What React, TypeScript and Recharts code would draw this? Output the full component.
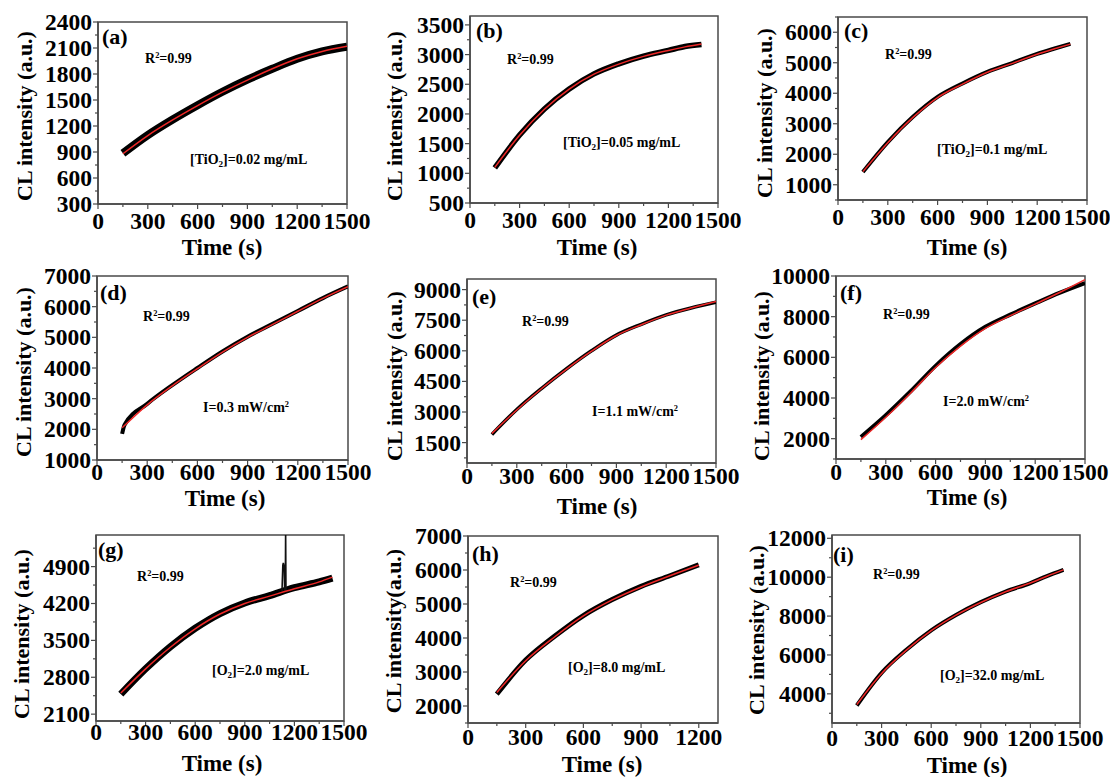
import { LineChart, Line, XAxis, YAxis, ReferenceArea } from 'recharts';

const FONT = '"Liberation Serif", "Times New Roman", serif';
const AXIS = '#4a4a4a';
const RED = '#ee2828';

// x tick labels
const xTicks1500 = [0, 300, 600, 900, 1200, 1500];
const xTicks1200 = [0, 300, 600, 900, 1200];

// (a) [TiO2]=0.02 mg/mL
const timeA = [150, 300, 450, 600, 750, 900, 1050, 1200, 1350, 1500];
const fitA = [880, 1090, 1270, 1435, 1590, 1730, 1860, 1975, 2060, 2120];
const signalA = [885, 1095, 1275, 1440, 1595, 1735, 1860, 1975, 2060, 2115];
const yTicksA = [300, 600, 900, 1200, 1500, 1800, 2100, 2400];

// (b) [TiO2]=0.05 mg/mL
const timeB = [150, 300, 450, 600, 750, 900, 1050, 1200, 1300, 1400];
const fitB = [1100, 1640, 2080, 2420, 2670, 2840, 2970, 3070, 3130, 3180];
const signalB = [1090, 1645, 2085, 2420, 2675, 2845, 2975, 3070, 3135, 3170];
const yTicksB = [500, 1000, 1500, 2000, 2500, 3000, 3500];

// (c) [TiO2]=0.1 mg/mL
const timeC = [150, 300, 450, 600, 750, 900, 1050, 1200, 1300, 1400];
const fitC = [1430, 2380, 3200, 3860, 4300, 4690, 4980, 5280, 5450, 5610];
const signalC = [1420, 2400, 3220, 3880, 4320, 4700, 4990, 5290, 5460, 5620];
const yTicksC = [1000, 2000, 3000, 4000, 5000, 6000];

// (d) I=0.3 mW/cm2
const timeD = [150, 300, 450, 600, 750, 900, 1050, 1200, 1350, 1500];
const fitD = [2050, 2800, 3420, 3980, 4520, 5000, 5420, 5850, 6270, 6650];
const signalTimeD = [150, 165, 300, 450, 600, 750, 900, 1050, 1200, 1350, 1500];
const signalD = [1850, 2150, 2830, 3440, 4000, 4540, 5020, 5440, 5860, 6280, 6660];
const yTicksD = [1000, 2000, 3000, 4000, 5000, 6000, 7000];

// (e) I=1.1 mW/cm2
const timeE = [150, 300, 450, 600, 750, 900, 1050, 1200, 1350, 1500];
const fitE = [1950, 3100, 4150, 5100, 5980, 6750, 7280, 7750, 8100, 8420];
const signalE = [1900, 3120, 4160, 5120, 6000, 6770, 7300, 7760, 8100, 8380];
const yTicksE = [1500, 3000, 4500, 6000, 7500, 9000];

// (f) I=2.0 mW/cm2
const timeF = [150, 300, 450, 600, 750, 900, 1050, 1200, 1350, 1500];
const fitF = [1950, 3050, 4250, 5500, 6550, 7420, 8050, 8620, 9200, 9820];
const signalF = [2080, 3150, 4330, 5580, 6650, 7500, 8100, 8650, 9180, 9650];
const yTicksF = [2000, 4000, 6000, 8000, 10000];

// (g) [O2]=2.0 mg/mL, with a short spike near 1140 s
const timeG = [150, 300, 450, 600, 750, 900, 1050, 1200, 1350, 1430];
const fitG = [2500, 2960, 3370, 3720, 4000, 4200, 4340, 4480, 4610, 4700];
const signalG = [2480, 2960, 3380, 3730, 4010, 4210, 4350, 4500, 4610, 4680];
const spikeTimeG = [1125, 1130, 1133, 1138, 1141, 1145, 1147, 1149, 1152];
const spikeG = [4440, 4930, 4970, 4900, 4450, 4450, 5600, 4460, 4460];
const yTicksG = [2100, 2800, 3500, 4200, 4900];

// (h) [O2]=8.0 mg/mL
const timeH = [150, 300, 450, 600, 750, 900, 1050, 1200];
const fitH = [2400, 3330, 4030, 4650, 5120, 5500, 5830, 6140];
const signalH = [2350, 3350, 4050, 4660, 5130, 5520, 5830, 6150];
const yTicksH = [2000, 3000, 4000, 5000, 6000, 7000];

// (i) [O2]=32.0 mg/mL
const timeI = [150, 300, 450, 600, 750, 900, 1050, 1200, 1300, 1400];
const fitI = [3450, 5050, 6250, 7250, 8050, 8700, 9250, 9700, 10050, 10380];
const signalI = [3400, 5080, 6270, 7270, 8060, 8720, 9260, 9700, 10060, 10380];
const yTicksI = [4000, 6000, 8000, 10000, 12000];

type Note = { left: number; cy: number; size: number; content: React.ReactNode };

type PanelCfg = {
  box: [number, number, number, number];
  xDomain: [number, number];
  yDomain: [number, number];
  xTicks: number[];
  yTicks: number[];
  fitT: number[];
  fit: number[];
  sigT: number[];
  sig: number[];
  spikeT?: number[];
  spike?: number[];
  band: number;
  tickDy: number;
  xTitle: [number, number];
  yTitle: [number, number];
  yTitleText: string;
  notes: Note[];
};

const sub = (s: string) => <sub style={{ fontSize: '0.65em', verticalAlign: '-0.25em' }}>{s}</sub>;
const sup = (s: string) => <sup style={{ fontSize: '0.6em', verticalAlign: '0.55em' }}>{s}</sup>;

const r2 = <span>R{sup('2')}=0.99</span>;

const panels: PanelCfg[] = [
  {
    box: [98, 22, 347, 204], xDomain: [0, 1500], yDomain: [300, 2400], xTicks: xTicks1500, yTicks: yTicksA,
    fitT: timeA, fit: fitA, sigT: timeA, sig: signalA, band: 8, tickDy: 17,
    xTitle: [222, 247], yTitle: [25, 116], yTitleText: 'CL intensity (a.u.)',
    notes: [
      { left: 102, cy: 37, size: 22, content: '(a)' },
      { left: 145, cy: 59, size: 14, content: r2 },
      { left: 190, cy: 161, size: 14, content: <span>[TiO{sub('2')}]=0.02 mg/mL</span> },
    ],
  },
  {
    box: [470, 16, 718, 203], xDomain: [0, 1500], yDomain: [500, 3650], xTicks: xTicks1500, yTicks: yTicksB,
    fitT: timeB, fit: fitB, sigT: timeB, sig: signalB, band: 5.5, tickDy: 17,
    xTitle: [597, 247], yTitle: [395, 116], yTitleText: 'CL intensity (a.u.)',
    notes: [
      { left: 476, cy: 31, size: 22, content: '(b)' },
      { left: 507, cy: 60, size: 14, content: r2 },
      { left: 563, cy: 144, size: 14, content: <span>[TiO{sub('2')}]=0.05 mg/mL</span> },
    ],
  },
  {
    box: [838, 17, 1087, 200], xDomain: [0, 1500], yDomain: [500, 6500], xTicks: xTicks1500, yTicks: yTicksC,
    fitT: timeC, fit: fitC, sigT: timeC, sig: signalC, band: 4, tickDy: 17,
    xTitle: [967, 247], yTitle: [765, 113], yTitleText: 'CL intensity (a.u.)',
    notes: [
      { left: 844, cy: 31, size: 22, content: '(c)' },
      { left: 885, cy: 55, size: 14, content: r2 },
      { left: 937, cy: 151, size: 14, content: <span>[TiO{sub('2')}]=0.1 mg/mL</span> },
    ],
  },
  {
    box: [97, 276, 348, 460], xDomain: [0, 1500], yDomain: [1000, 7000], xTicks: xTicks1500, yTicks: yTicksD,
    fitT: timeD, fit: fitD, sigT: signalTimeD, sig: signalD, band: 4, tickDy: 12,
    xTitle: [225, 498], yTitle: [24, 372], yTitleText: 'CL intensity (a.u.)',
    notes: [
      { left: 100, cy: 293, size: 22, content: '(d)' },
      { left: 143, cy: 317, size: 14, content: r2 },
      { left: 203, cy: 408, size: 14, content: <span>I=0.3 mW/cm{sup('2')}</span> },
    ],
  },
  {
    box: [467, 279, 716, 463], xDomain: [0, 1500], yDomain: [500, 9520], xTicks: xTicks1500, yTicks: yTicksE,
    fitT: timeE, fit: fitE, sigT: timeE, sig: signalE, band: 3.5, tickDy: 13,
    xTitle: [597, 506], yTitle: [395, 376], yTitleText: 'CL intensity (a.u.)',
    notes: [
      { left: 472, cy: 297, size: 22, content: '(e)' },
      { left: 522, cy: 322, size: 14, content: r2 },
      { left: 592, cy: 412, size: 14, content: <span>I=1.1 mW/cm{sup('2')}</span> },
    ],
  },
  {
    box: [836, 276, 1085, 459], xDomain: [0, 1500], yDomain: [1000, 10000], xTicks: xTicks1500, yTicks: yTicksF,
    fitT: timeF, fit: fitF, sigT: timeF, sig: signalF, band: 4, tickDy: 13,
    xTitle: [967, 497], yTitle: [762, 376], yTitleText: 'CL intensity (a.u.)',
    notes: [
      { left: 840, cy: 293, size: 22, content: '(f)' },
      { left: 883, cy: 315, size: 14, content: r2 },
      { left: 943, cy: 402, size: 14, content: <span>I=2.0 mW/cm{sup('2')}</span> },
    ],
  },
  {
    box: [96, 535, 344, 721], xDomain: [0, 1500], yDomain: [1970, 5500], xTicks: xTicks1500, yTicks: yTicksG,
    fitT: timeG, fit: fitG, sigT: timeG, sig: signalG, spikeT: spikeTimeG, spike: spikeG, band: 7, tickDy: 11,
    xTitle: [222, 763], yTitle: [22, 634], yTitleText: 'CL intensity (a.u.)',
    notes: [
      { left: 98, cy: 550, size: 22, content: '(g)' },
      { left: 137, cy: 577, size: 14, content: r2 },
      { left: 212, cy: 672, size: 14, content: <span>[O{sub('2')}]=2.0 mg/mL</span> },
    ],
  },
  {
    box: [468, 536, 718, 723], xDomain: [0, 1300], yDomain: [1500, 7000], xTicks: xTicks1200, yTicks: yTicksH,
    fitT: timeH, fit: fitH, sigT: timeH, sig: signalH, band: 5, tickDy: 14,
    xTitle: [602, 764], yTitle: [394, 631], yTitleText: 'CL intensity(a.u.)',
    notes: [
      { left: 472, cy: 554, size: 22, content: '(h)' },
      { left: 510, cy: 583, size: 14, content: r2 },
      { left: 568, cy: 669, size: 14, content: <span>[O{sub('2')}]=8.0 mg/mL</span> },
    ],
  },
  {
    box: [832, 535, 1080, 723], xDomain: [0, 1500], yDomain: [2500, 12170], xTicks: xTicks1500, yTicks: yTicksI,
    fitT: timeI, fit: fitI, sigT: timeI, sig: signalI, band: 4, tickDy: 15,
    xTitle: [967, 765], yTitle: [757, 630], yTitleText: 'CL intensity (a.u.)',
    notes: [
      { left: 833, cy: 555, size: 22, content: '(i)' },
      { left: 873, cy: 575, size: 14, content: r2 },
      { left: 940, cy: 677, size: 14, content: <span>[O{sub('2')}]=32.0 mg/mL</span> },
    ],
  },
];

// majors plus one minor tick half-way between them
const withMinors = (majors: number[], domain: [number, number]) => {
  const step = majors[1] - majors[0];
  const out: number[] = [];
  const first = majors[0] - step / 2;
  if (first >= domain[0]) out.push(first);
  majors.forEach((m) => {
    out.push(m);
    if (m + step / 2 <= domain[1]) out.push(m + step / 2);
  });
  return out;
};

const TICK_FONT = 23.5;

const Panel = ({ p }: { p: PanelCfg }) => {
  const axisW = 80;
  const padTop = 15;
  const padRight = 30;
  const axisH = 34;
  const [x0, y0, x1, y1] = p.box;
  const w = axisW + (x1 - x0) + padRight;
  const h = padTop + (y1 - y0) + axisH;
  const fitData = p.fitT.map((t, i) => ({ t, v: p.fit[i] }));
  const sigData = p.sigT.map((t, i) => ({ t, v: p.sig[i] }));
  const spikeData = p.spikeT ? p.spikeT.map((t, i) => ({ t, v: p.spike![i] })) : null;

  const xTick = (props: any) => {
    const { x, y, payload } = props;
    const major = p.xTicks.includes(payload.value);
    return (
      <g>
        <line x1={x} x2={x} y1={y} y2={y + (major ? 5 : 3)} stroke={AXIS} strokeWidth={1.2} />
        {major && (
          <text x={x} y={y + p.tickDy} textAnchor="middle" dominantBaseline="central"
            style={{ fontFamily: FONT, fontWeight: 'bold', fontSize: TICK_FONT, fill: '#000' }}>
            {payload.value}
          </text>
        )}
      </g>
    );
  };

  const yTick = (props: any) => {
    const { x, y, payload } = props;
    const major = p.yTicks.includes(payload.value);
    return (
      <g>
        <line x1={x} x2={x - (major ? 5 : 3)} y1={y} y2={y} stroke={AXIS} strokeWidth={1.2} />
        {major && (
          <text x={x - 6} y={y} textAnchor="end" dominantBaseline="central"
            style={{ fontFamily: FONT, fontWeight: 'bold', fontSize: TICK_FONT, fill: '#000' }}>
            {payload.value}
          </text>
        )}
      </g>
    );
  };

  return (
    <>
      <div style={{ position: 'absolute', left: x0 - axisW, top: y0 - padTop }}>
        <LineChart width={w} height={h} margin={{ top: padTop, right: padRight, bottom: 0, left: 0 }}>
          <XAxis type="number" dataKey="t" domain={p.xDomain} allowDataOverflow
            ticks={withMinors(p.xTicks, p.xDomain)} interval={0} height={axisH}
            tickSize={0} tickMargin={0} tickLine={false} tick={xTick}
            axisLine={{ stroke: AXIS, strokeWidth: 1.5 }} />
          <YAxis type="number" dataKey="v" domain={p.yDomain} allowDataOverflow
            ticks={withMinors(p.yTicks, p.yDomain)} interval={0} width={axisW}
            tickSize={0} tickMargin={0} tickLine={false} tick={yTick}
            axisLine={{ stroke: AXIS, strokeWidth: 1.5 }} />
          <ReferenceArea x1={p.xDomain[0]} x2={p.xDomain[1]} y1={p.yDomain[0]} y2={p.yDomain[1]}
            fill="none" fillOpacity={0} stroke={AXIS} strokeWidth={1.5} />
          <Line data={sigData} dataKey="v" type="monotone" stroke="#000" strokeWidth={p.band}
            dot={false} activeDot={false} isAnimationActive={false} />
          {spikeData && (
            <Line data={spikeData} dataKey="v" type="linear" stroke="#111" strokeWidth={1.6}
              dot={false} activeDot={false} isAnimationActive={false} />
          )}
          <Line data={fitData} dataKey="v" type="monotone" stroke={RED} strokeWidth={1.5}
            dot={false} activeDot={false} isAnimationActive={false} />
        </LineChart>
      </div>
      <div style={{
        position: 'absolute', left: p.xTitle[0], top: p.xTitle[1], transform: 'translate(-50%, -50%)',
        fontSize: 23, fontWeight: 'bold', whiteSpace: 'nowrap', lineHeight: 1,
      }}>
        Time (s)
      </div>
      <div style={{
        position: 'absolute', left: p.yTitle[0], top: p.yTitle[1],
        transform: 'translate(-50%, -50%) rotate(-90deg)',
        fontSize: 22, fontWeight: 'bold', whiteSpace: 'nowrap', lineHeight: 1,
      }}>
        {p.yTitleText}
      </div>
      {p.notes.map((n, i) => (
        <div key={i} style={{
          position: 'absolute', left: n.left, top: n.cy, transform: 'translateY(-50%)',
          fontSize: n.size, fontWeight: 'bold', whiteSpace: 'nowrap', lineHeight: 1,
        }}>
          {n.content}
        </div>
      ))}
    </>
  );
};

export default function App() {
  return (
    <div style={{
      position: 'absolute', left: 0, top: 0, width: 1110, height: 777,
      background: '#fff', fontFamily: FONT, color: '#000', overflow: 'hidden',
    }}>
      {panels.map((p, i) => (
        <Panel key={i} p={p} />
      ))}
    </div>
  );
}
